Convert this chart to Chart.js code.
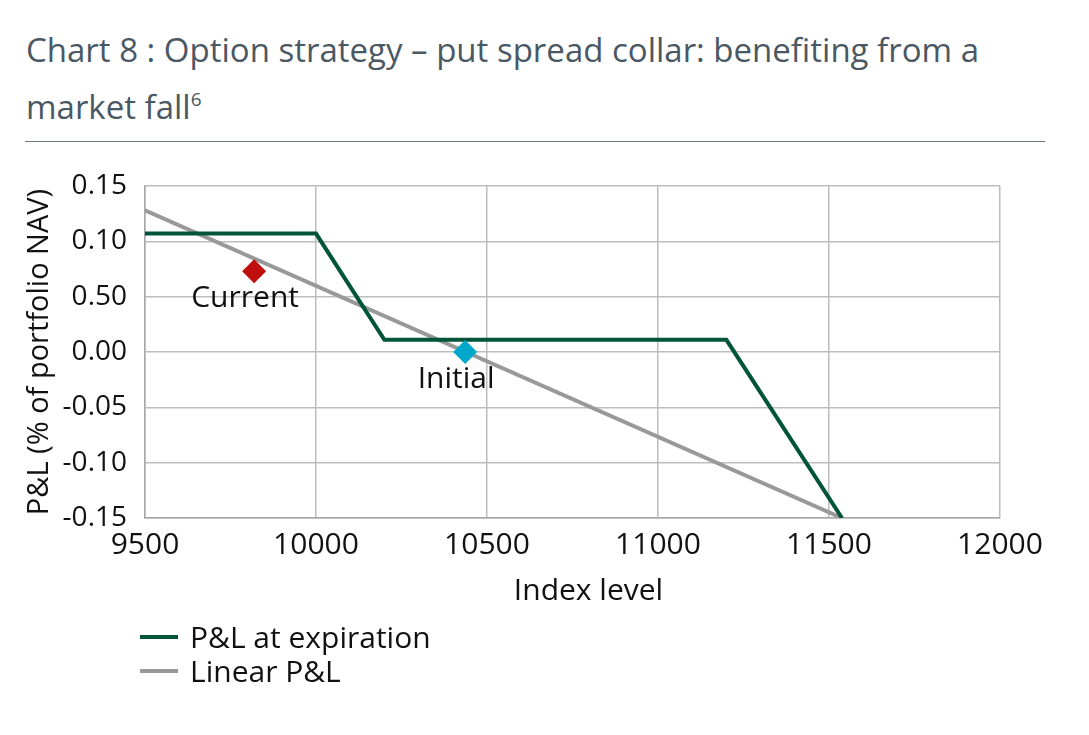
<!DOCTYPE html>
<html>
<head>
<meta charset="utf-8">
<script src="https://cdn.jsdelivr.net/npm/chart.js@4"></script>
<style>
  body { margin: 0; width: 1089px; height: 735px; background: #fff; position: relative; overflow: hidden; }
  #title {
    position: absolute; left: 26px; top: 21px; width: 1030px;
    font-family: "Open Sans", sans-serif;
    font-size: 33px; line-height: 57px; color: #4a5864;
  }
  #title sup { font-size: 19px; vertical-align: 13px; line-height: 0; }
  #rule { position: absolute; left: 25px; top: 141px; width: 1020px; height: 0; border-top: 1.5px solid #6e7a83; }
  #wrap { position: absolute; left: 0; top: 150px; width: 1089px; height: 470px; }
  #legend { position: absolute; left: 140px; top: 620px; font-family: "Open Sans", sans-serif; font-size: 30px; color: #111; }
  .item { height: 34px; line-height: 34px; display: flex; align-items: center; }
  .swatch { width: 38px; height: 4px; margin-right: 12px; }
</style>
</head>
<body>
<div id="title">Chart 8 : Option strategy – put spread collar: benefiting from a<br>market fall<sup>6</sup></div>
<div id="rule"></div>
<div id="wrap"><canvas id="pnlChart" width="1089" height="470"></canvas></div>
<div id="legend"></div>
<script>
// x = index level, y = P&L (% of portfolio NAV)
const expiryX = [9500, 10000, 10200, 11200, 11538];
const expiryY = [0.107, 0.107, 0.011, 0.011, -0.15];
const linearX = [9500, 11538];
const linearY = [0.128, -0.15];
const markerNames = ['Current', 'Initial'];
const markerX = [9819, 10436];
const markerY = [0.073, 0.0];
const yTickLabels = ['-0.15', '-0.10', '-0.05', '0.00', '0.50', '0.10', '0.15'];
const xTitle = 'Index level';

const toPoints = (xs, ys) => xs.map((x, i) => ({ x, y: ys[i] }));
const FONT = '"Open Sans", sans-serif';

// writes "Current" / "Initial" under their diamonds, and the x-axis title
// (which sits a little right of centre in the original)
const chartLabels = {
  id: 'chartLabels',
  afterDraw(chart) {
    const { ctx, scales, chartArea } = chart;
    ctx.save();
    ctx.font = '30px ' + FONT;
    ctx.fillStyle = '#111';
    ctx.textAlign = 'center';
    ctx.textBaseline = 'middle';
    markerNames.forEach((name, i) => {
      const px = scales.x.getPixelForValue(markerX[i]);
      const py = scales.y.getPixelForValue(markerY[i]);
      ctx.fillText(name, px - 9, py + 27);
    });
    ctx.fillText(xTitle, (chartArea.left + chartArea.right) / 2 + 16, chartArea.bottom + 73);
    ctx.restore();
  }
};

const chart = new Chart(document.getElementById('pnlChart'), {
  type: 'line',
  data: {
    datasets: [
      {
        label: 'P&L at expiration',
        data: toPoints(expiryX, expiryY),
        borderColor: '#00543a',
        borderWidth: 4,
        pointRadius: 0,
        tension: 0,
        order: 1
      },
      {
        label: 'Linear P&L',
        data: toPoints(linearX, linearY),
        borderColor: '#999999',
        borderWidth: 4,
        pointRadius: 0,
        tension: 0,
        order: 2
      },
      {
        label: markerNames[0],
        data: [{ x: markerX[0], y: markerY[0] }],
        showLine: false,
        pointStyle: 'rectRot',
        pointRadius: 12,
        backgroundColor: '#c00d0d',
        borderColor: '#c00d0d',
        borderWidth: 0,
        order: 0
      },
      {
        label: markerNames[1],
        data: [{ x: markerX[1], y: markerY[1] }],
        showLine: false,
        pointStyle: 'rectRot',
        pointRadius: 12,
        backgroundColor: '#00a9cc',
        borderColor: '#00a9cc',
        borderWidth: 0,
        order: 0
      }
    ]
  },
  options: {
    responsive: false,
    animation: false,
    layout: { padding: { left: 0, right: 89, top: 36, bottom: 0 } },
    plugins: {
      legend: { display: false },
      tooltip: { enabled: false }
    },
    scales: {
      x: {
        type: 'linear',
        min: 9500,
        max: 12000,
        ticks: {
          stepSize: 500,
          padding: 9,
          color: '#111',
          font: { family: FONT, size: 30 },
          callback: v => String(v)
        },
        grid: { color: '#bdbdbd', lineWidth: 1.5, drawTicks: false },
        border: { color: '#a8a8a8', width: 1.5 },
        afterFit: s => { s.height = 102; }
      },
      y: {
        min: -0.15,
        max: 0.15,
        ticks: {
          stepSize: 0.05,
          padding: 18,
          color: '#111',
          font: { family: FONT, size: 28 },
          callback: (v, i) => yTickLabels[i]
        },
        grid: { color: '#bdbdbd', lineWidth: 1.5, drawTicks: false },
        border: { color: '#a8a8a8', width: 1.5 },
        title: { display: true, text: 'P&L (% of portfolio NAV)', color: '#111', font: { family: FONT, size: 29 }, padding: { top: 22, bottom: 0 } },
        afterFit: s => { s.width = 145; }
      }
    }
  },
  plugins: [chartLabels]
});

// legend for the two lines only
const legend = document.getElementById('legend');
chart.data.datasets.slice(0, 2).forEach(ds => {
  const row = document.createElement('div');
  row.className = 'item';
  row.innerHTML = '<span class="swatch" style="background:' + ds.borderColor + '"></span>' + ds.label;
  legend.appendChild(row);
});
</script>
</body>
</html>
